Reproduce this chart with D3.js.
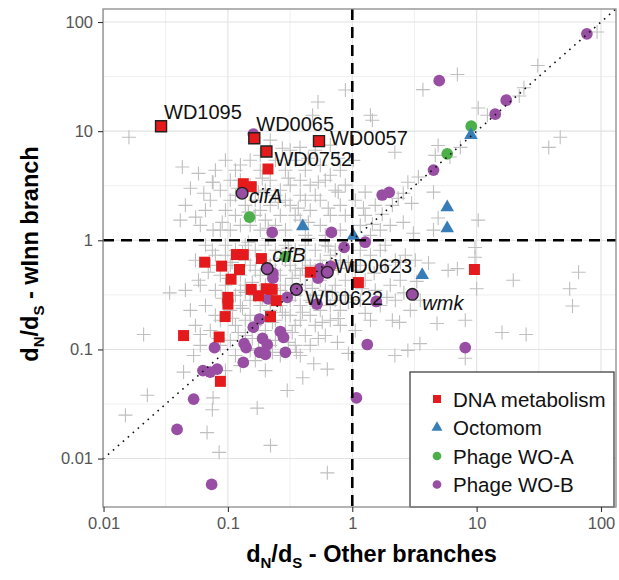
<!DOCTYPE html>
<html>
<head>
<meta charset="utf-8">
<script src="https://cdn.jsdelivr.net/npm/d3@7"></script>
<style>
body { margin: 0; background: #fff; }
text { font-family: "Liberation Sans", Arial, Helvetica, sans-serif; }
</style>
</head>
<body>
<svg id="chart"></svg>
<script>
var WIDTH = 619, HEIGHT = 580;
var LEFT = 103, RIGHT = 616, TOP = 9, BOTTOM = 507;

var tickValues = [0.01, 0.1, 1, 10, 100];
var tickLabels = ["0.01", "0.1", "1", "10", "100"];
var groups = ["DNA metabolism", "Octomom", "Phage WO-A", "Phage WO-B"];

// gray crosses: all other genes
var otherGenes = [
  [0.016,8.8],[0.88,23.8],[0.53,18.5],[0.043,4.7],[0.058,4.1],[0.076,3.4],[0.05,3.0],[0.064,2.7],
  [0.055,1.63],[0.076,1.24],[0.126,4.9],[0.38,7.1],[93,81],[31,40],[7.0,33],[3.7,24],[24,25],[22,21],
  [10.3,16.3],[12.2,14],[1.4,14],[1.45,12.6],[2.2,6.4],[4.9,7.4],[4.65,6.0],[38,7.1],[47,8.8],[1.02,5.4],
  [4.5,2.76],[1.27,2.76],[1.23,1.97],[2.57,2.7],[3.0,2.18],[2.57,1.46],[10.3,1.53],[4.9,1.6],[4.5,1.24],
  [2.8,3.4],[3.4,3.8],[7.4,7.1],[6.1,5.8],[66,0.51],[56,0.36],[59,0.25],[19.7,0.43],[16,0.143],[25,0.137],
  [10,0.36],[5.9,0.53],[7.0,0.55],[4.1,0.62],[4.8,0.173],[8.1,0.185],[8.1,0.083],[3.5,0.113],[2.8,0.098],
  [2.2,0.088],[2.1,0.185],[2.4,0.177],[1.27,0.214],[9.7,0.86],[9.7,0.70],[3.1,1.16],[0.021,0.137],
  [0.0225,0.038],[0.015,0.025],[0.068,0.0173],[0.085,0.0114],[0.22,0.0132],[0.63,0.0074],[0.30,0.042],
  [0.172,0.029],[0.076,0.036],[0.075,0.028],[0.40,0.055],[0.49,0.074],[0.63,0.066],[0.76,0.116],
  [0.93,0.092],[0.044,0.062],[0.053,0.088],[0.06,0.137],[0.034,0.33],[0.058,0.43],[1.45,1.40],
  [1.74,1.73],[2.1,2.09],[2.34,2.43],[0.48,14],
  [0.1045,3.55],[0.115,4.39],[0.151,5.42],[0.182,6.02],[0.241,5.42],[0.29,4.39],[0.348,5.42],[0.419,4.39],
  [0.553,4.87],[0.607,3.55],[0.801,4.39],[0.879,3.2],[0.115,2.59],[0.138,2.09],[0.166,2.33],[0.2,2.87],
  [0.219,3.55],[0.264,2.87],[0.317,3.2],[0.382,2.59],[0.459,3.2],[0.553,2.33],[0.73,2.87],[0.801,2.09],
  [0.0955,1.88],[0.115,1.69],[0.151,1.37],[0.182,1.88],[0.219,2.09],[0.264,1.69],[0.317,2.09],[0.382,1.53],
  [0.459,1.88],[0.553,1.37],[0.666,1.69],[0.801,1.24],[0.879,1.69],[0.0869,2.87],[0.0722,2.33],[0.066,1.88],
  [0.1045,1.24],[0.126,1.37],[0.29,1.24],[0.419,1.11],[0.241,1.37],[0.182,1.24],[0.06,1.37],[0.0455,2.09],
  [0.0414,1.53],[0.151,3.2],[0.504,6.69],[0.317,6.69],[0.219,8.27],[0.666,7.45],[0.0955,5.42],[0.0793,4.39],
  [0.166,1.69],[0.348,1.69],[0.504,2.59],[0.607,1.11],[0.2,1.53],[0.29,2.33],[0.126,3.55],[0.419,2.33],
  [0.241,2.59],[0.666,3.95],[0.382,3.55],[0.0869,1.24],[0.1045,2.33],[0.182,4.39],
  [0.121,3.0],[0.146,1.81],[0.176,2.76],[0.211,1.29],[0.254,2.23],[0.306,3.71],[0.368,1.97],[0.443,1.46],
  [0.533,3.4],[0.641,1.97],[0.771,2.76],[0.09,1.46],[0.075,3.4],[0.274,6.98],[0.443,5.65],[0.771,5.65],
  [0.189,3.71],
  [0.066,0.9],[0.0793,0.73],[0.0955,0.9],[0.115,0.81],[0.138,0.9],[0.166,0.81],[0.2,0.9],[0.241,0.81],
  [0.29,0.9],[0.348,0.81],[0.419,0.9],[0.504,0.81],[0.607,0.9],[0.73,0.81],[0.0722,0.59],[0.0869,0.478],
  [0.1045,0.59],[0.126,0.478],[0.151,0.59],[0.182,0.478],[0.219,0.59],[0.264,0.478],[0.317,0.59],
  [0.382,0.478],[0.459,0.59],[0.553,0.43],[0.666,0.531],[0.801,0.656],[0.879,0.43],[0.06,0.387],
  [0.0793,0.348],[0.0955,0.387],[0.115,0.313],[0.138,0.387],[0.166,0.313],[0.2,0.387],[0.241,0.313],
  [0.29,0.387],[0.348,0.313],[0.419,0.387],[0.504,0.313],[0.607,0.348],[0.73,0.282],[0.879,0.313],
  [0.066,0.253],[0.0793,0.205],[0.1045,0.228],[0.126,0.253],[0.151,0.205],[0.182,0.253],[0.219,0.228],
  [0.264,0.253],[0.317,0.205],[0.382,0.253],[0.459,0.205],[0.553,0.228],[0.666,0.185],[0.801,0.228],
  [0.0548,0.166],[0.0722,0.149],[0.0869,0.185],[0.115,0.166],[0.138,0.134],[0.166,0.166],[0.2,0.149],
  [0.241,0.185],[0.29,0.149],[0.348,0.166],[0.419,0.134],[0.504,0.166],[0.607,0.134],[0.0869,0.109],
  [0.1045,0.121],[0.151,0.098],[0.219,0.109],[0.264,0.088],[0.348,0.109],[0.382,0.088],[0.166,0.079],
  [0.115,0.088],[0.126,0.071],[0.0955,0.064],[0.2,0.064],[0.06,0.109],[0.0499,0.228],[0.0455,0.348],
  [0.0548,0.656],[0.0955,0.73],[0.138,0.656],[0.166,0.531],[0.2,0.656],[0.241,0.531],[0.29,0.656],
  [0.348,0.531],[0.419,0.656],[0.504,0.531],[0.126,0.348],[0.151,0.282],[0.182,0.348],[0.219,0.282],
  [0.264,0.348],[0.317,0.282],[0.382,0.348],[0.459,0.282],[0.138,0.185],[0.182,0.185],[0.29,0.205],
  [0.382,0.185],[0.241,0.121],[0.459,0.109],[0.666,0.73],[0.553,0.656],[0.73,0.387],[0.801,0.166],
  [0.666,0.253],
  [0.075,0.81],[0.108,0.628],[0.131,0.776],[0.157,0.412],[0.189,0.628],[0.228,0.363],[0.274,0.684],
  [0.329,0.448],[0.397,0.553],[0.477,0.363],[0.574,0.553],[0.691,0.334],[0.09,0.294],[0.109,0.193],
  [0.131,0.238],[0.157,0.126],[0.189,0.294],[0.228,0.177],[0.274,0.219],[0.329,0.143],[0.397,0.219],
  [0.477,0.27],[0.574,0.177],[0.228,0.094],[0.306,0.116],[0.176,0.102],[0.121,0.143],[0.0837,0.126],
  [0.101,0.448],[0.0695,0.509],[0.146,0.96],[0.211,1.04],[0.306,0.845],[0.443,1.04],[0.641,0.881],
  [0.771,0.553],[0.771,0.192],[0.929,0.628],[0.929,0.27],[0.533,0.126],[0.355,0.094],[0.138,0.333],
  [1.16,0.81],[1.4,0.73],[1.68,0.81],[1.16,0.59],[1.84,0.59],[2.22,0.656],[2.67,0.73],[1.27,0.43],
  [1.53,0.348],[2.02,0.387],[2.43,0.43],[1.16,0.282],[1.68,0.253],[2.22,0.282],[2.93,0.228],[1.057,0.149],
  [3.52,0.282],[3.21,0.656],[1.4,0.185],[1.057,0.531],[1.84,0.9],[2.43,0.63],[1.5,0.5],[1.9,0.3],
  [2.6,0.33],[1.2,0.36],[3.3,0.42],
  [1.16,1.37],[1.4,1.11],[1.68,1.24],[1.27,1.69],[2.02,1.37],[1.057,2.33],[1.53,2.09]
];

var dnaMetabolism = [
  [0.21,4.5],[0.133,3.3],[0.154,3.1],[0.065,0.63],[0.089,0.58],[0.117,0.74],[0.133,0.74],[0.124,0.54],
  [0.106,0.44],[0.186,0.68],[0.46,0.51],[0.154,0.355],[0.204,0.36],[0.227,0.355],[0.176,0.31],[0.245,0.28],
  [0.10,0.30],[0.10,0.26],[0.095,0.20],[0.22,0.20],[0.044,0.134],[0.085,0.13],[0.087,0.051],[1.12,0.41],
  [9.6,0.54]
];
var octomom = [[0.40,1.34],[5.8,2.0],[5.8,1.29],[3.65,0.48],[1.02,1.1],[9.0,9.2]];
var phageWOA = [[0.149,1.63],[9.05,11.1],[5.8,6.2],[0.29,0.71]];
var phageWOB = [
  [77,78],[5.0,29],[17.3,19.2],[14.1,14.3],[4.5,4.4],[1.74,2.6],[1.98,2.75],[0.86,0.86],[1.27,0.96],
  [1.56,0.275],[1.32,0.111],[8.1,0.104],[1.08,0.036],[0.16,9.4],[0.227,1.18],[0.68,1.18],[0.55,0.55],
  [0.53,0.45],[0.67,0.58],[0.23,0.50],[0.23,0.45],[0.30,0.30],[0.52,0.26],[0.21,0.29],[0.18,0.19],
  [0.16,0.16],[0.264,0.146],[0.28,0.129],[0.19,0.126],[0.207,0.111],[0.18,0.094],[0.20,0.09],[0.29,0.094],
  [0.135,0.113],[0.14,0.104],[0.078,0.104],[0.133,0.076],[0.063,0.064],[0.072,0.062],[0.082,0.066],
  [0.053,0.035],[0.039,0.0185],[0.074,0.0058]
];

// highlighted genes
var labelNames = ["WD1095", "WD0065", "WD0752", "WD0057", "cifA", "cifB", "WD0623", "WD0622", "wmk"];
var labelGroups = ["DNA metabolism", "DNA metabolism", "DNA metabolism", "DNA metabolism",
                   "Phage WO-B", "Phage WO-B", "Phage WO-B", "Phage WO-B", "Phage WO-B"];
var labelPoints = [[0.029,11.1],[0.163,8.6],[0.204,6.5],[0.54,8.1],[0.13,2.7],[0.207,0.55],
                   [0.63,0.51],[0.355,0.355],[3.04,0.32]];

var COLORS = {"DNA metabolism": "#e41a1c", "Octomom": "#377eb8", "Phage WO-A": "#4daf4a", "Phage WO-B": "#984ea3"};
var SHAPES = {"DNA metabolism": d3.symbolSquare, "Octomom": d3.symbolTriangle, "Phage WO-A": d3.symbolCircle, "Phage WO-B": d3.symbolCircle};
var SIZES = {"DNA metabolism": 121, "Octomom": 80, "Phage WO-A": 108, "Phage WO-B": 108};
var OFFSETS = {"WD1095": [3,-7], "WD0065": [2,-7], "WD0752": [8,14], "WD0057": [11,4], "cifA": [7,10],
               "cifB": [5,-7], "WD0623": [7,1], "WD0622": [9,16], "wmk": [10,16]};
var ITALIC = ["cifA", "cifB", "wmk"];

var svg = d3.select("#chart").attr("width", WIDTH).attr("height", HEIGHT);

var x = d3.scaleLog().domain([0.0099, 132]).range([LEFT, RIGHT]);
var y = d3.scaleLog().domain([0.0036, 131.6]).range([BOTTOM, TOP]);

svg.append("rect")
    .attr("x", LEFT).attr("y", TOP)
    .attr("width", RIGHT - LEFT).attr("height", BOTTOM - TOP)
    .attr("fill", "#fff");

// grid
var minor = [0.0316, 0.316, 3.16, 31.6];
var grid = svg.append("g");
grid.selectAll(".vmin").data(minor).enter().append("line")
    .attr("x1", d => x(d)).attr("x2", d => x(d)).attr("y1", TOP).attr("y2", BOTTOM)
    .attr("stroke", "#efefef").attr("stroke-width", 1);
grid.selectAll(".hmin").data(minor).enter().append("line")
    .attr("y1", d => y(d)).attr("y2", d => y(d)).attr("x1", LEFT).attr("x2", RIGHT)
    .attr("stroke", "#efefef").attr("stroke-width", 1);
grid.selectAll(".vmaj").data(tickValues).enter().append("line")
    .attr("x1", d => x(d)).attr("x2", d => x(d)).attr("y1", TOP).attr("y2", BOTTOM)
    .attr("stroke", "#e2e2e2").attr("stroke-width", 1.1);
grid.selectAll(".hmaj").data(tickValues).enter().append("line")
    .attr("y1", d => y(d)).attr("y2", d => y(d)).attr("x1", LEFT).attr("x2", RIGHT)
    .attr("stroke", "#e2e2e2").attr("stroke-width", 1.1);

// other genes as crosses
svg.append("g").selectAll("path").data(otherGenes).enter().append("path")
    .attr("transform", d => "translate(" + x(d[0]) + "," + y(d[1]) + ")")
    .attr("d", "M-7,0H7M0,-7V7")
    .attr("stroke", "#bfbfbf").attr("stroke-width", 1.1).attr("fill", "none");

function drawGroup(data, group) {
    svg.append("g").selectAll("path").data(data).enter().append("path")
        .attr("transform", d => "translate(" + x(d[0]) + "," + y(d[1]) + ")")
        .attr("d", d3.symbol().type(SHAPES[group]).size(SIZES[group]))
        .attr("fill", COLORS[group]);
}
drawGroup(phageWOB, "Phage WO-B");
drawGroup(phageWOA, "Phage WO-A");
drawGroup(octomom, "Octomom");
drawGroup(dnaMetabolism, "DNA metabolism");

// outlined, labelled genes
svg.append("g").selectAll("path").data(labelPoints).enter().append("path")
    .attr("transform", d => "translate(" + x(d[0]) + "," + y(d[1]) + ")")
    .attr("d", (d, i) => d3.symbol().type(SHAPES[labelGroups[i]]).size(SIZES[labelGroups[i]])())
    .attr("fill", (d, i) => COLORS[labelGroups[i]])
    .attr("stroke", "#222").attr("stroke-width", 1.4);

// reference lines
svg.append("line")
    .attr("x1", x(0.0099)).attr("y1", y(0.0099)).attr("x2", x(131.6)).attr("y2", y(131.6))
    .attr("stroke", "#111").attr("stroke-width", 1.6)
    .attr("stroke-dasharray", "1.6,5");
svg.append("line")
    .attr("x1", x(1)).attr("x2", x(1)).attr("y1", TOP).attr("y2", BOTTOM)
    .attr("stroke", "#000").attr("stroke-width", 2.6).attr("stroke-dasharray", "11,7");
svg.append("line")
    .attr("y1", y(1)).attr("y2", y(1)).attr("x1", LEFT).attr("x2", RIGHT)
    .attr("stroke", "#000").attr("stroke-width", 2.6).attr("stroke-dasharray", "11,7");

// gene labels
svg.append("g").selectAll("text").data(labelNames).enter().append("text")
    .attr("x", (d, i) => x(labelPoints[i][0]) + OFFSETS[d][0])
    .attr("y", (d, i) => y(labelPoints[i][1]) + OFFSETS[d][1])
    .attr("font-size", 20)
    .attr("font-style", d => ITALIC.indexOf(d) >= 0 ? "italic" : "normal")
    .attr("fill", "#111")
    .text(d => d);

// legend
var legend = svg.append("g");
legend.append("rect")
    .attr("x", 410).attr("y", 372).attr("width", 204).attr("height", 135)
    .attr("fill", "#fff").attr("stroke", "#333").attr("stroke-width", 1.2);
var legendSizes = {"DNA metabolism": 64, "Octomom": 52, "Phage WO-A": 60, "Phage WO-B": 60};
groups.forEach(function(g, i) {
    var cy = 399 + i * 28.5;
    legend.append("path")
        .attr("transform", "translate(437," + cy + ")")
        .attr("d", d3.symbol().type(SHAPES[g]).size(legendSizes[g]))
        .attr("fill", COLORS[g]);
    legend.append("text")
        .attr("x", 453).attr("y", cy + 7.5)
        .attr("font-size", 20.5).attr("fill", "#111")
        .text(g);
});

// panel border
svg.append("rect")
    .attr("x", LEFT).attr("y", TOP)
    .attr("width", RIGHT - LEFT).attr("height", BOTTOM - TOP)
    .attr("fill", "none").attr("stroke", "#8a8a8a").attr("stroke-width", 1.3);

// axes
var xAxis = svg.append("g").attr("transform", "translate(0," + BOTTOM + ")")
    .call(d3.axisBottom(x).tickValues(tickValues).tickFormat((d, i) => tickLabels[i]).tickSize(5).tickPadding(5));
var yAxis = svg.append("g").attr("transform", "translate(" + LEFT + ",0)")
    .call(d3.axisLeft(y).tickValues(tickValues).tickFormat((d, i) => tickLabels[i]).tickSize(5).tickPadding(5));
[xAxis, yAxis].forEach(function(a) {
    a.select(".domain").remove();
    a.selectAll(".tick line").attr("stroke", "#333").attr("stroke-width", 1.1);
    a.selectAll(".tick text").attr("fill", "#555").attr("font-size", 16.5)
        .attr("font-family", "'Liberation Sans', Arial, sans-serif");
});

// axis titles with subscripts
function title(sel, rest) {
    sel.append("tspan").text("d");
    sel.append("tspan").attr("dy", 6).attr("font-size", 15).text("N");
    sel.append("tspan").attr("dy", -6).text("/d");
    sel.append("tspan").attr("dy", 6).attr("font-size", 15).text("S");
    sel.append("tspan").attr("dy", -6).text(rest);
}
var xTitle = svg.append("text")
    .attr("x", (LEFT + RIGHT) / 2 + 12).attr("y", 562)
    .attr("text-anchor", "middle").attr("font-size", 23.5).attr("font-weight", "bold").attr("fill", "#000");
title(xTitle, " - Other branches");
var yTitle = svg.append("text")
    .attr("transform", "translate(38," + 254 + ") rotate(-90)")
    .attr("text-anchor", "middle").attr("font-size", 23.5).attr("font-weight", "bold").attr("fill", "#000");
title(yTitle, " - wInn branch");
</script>
</body>
</html>
